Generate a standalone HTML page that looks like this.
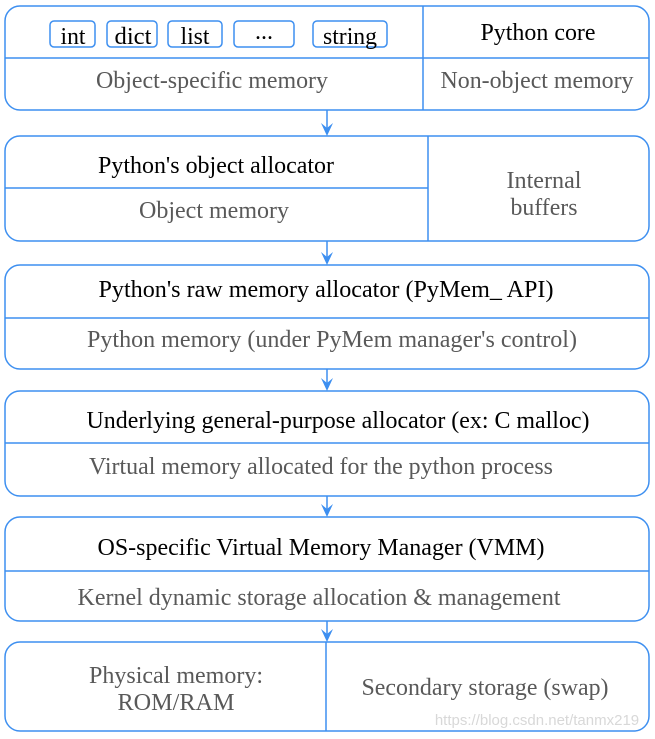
<!DOCTYPE html>
<html><head><meta charset="utf-8"><style>
html,body{margin:0;padding:0;background:#fff;}
svg{display:block;}
text{font-family:"Liberation Serif",serif;font-size:24px;text-anchor:middle;}
.b{fill:#000;} .g{fill:#595959;}
</style></head><body>
<svg width="655" height="739" viewBox="0 0 655 739">
<g fill="none" stroke="#3d8ff0" stroke-width="1.5">
<rect x="5" y="6" width="644" height="104" rx="15"/>
<line x1="5" y1="58" x2="649" y2="58"/><line x1="423" y1="6" x2="423" y2="110"/>
<rect x="50" y="21" width="45" height="26" rx="4"/>
<rect x="107" y="21" width="50" height="26" rx="4"/>
<rect x="168" y="21" width="54" height="26" rx="4"/>
<rect x="234" y="21" width="60" height="26" rx="4"/>
<rect x="313" y="21" width="74" height="26" rx="4"/>
<rect x="5" y="136" width="644" height="105" rx="15"/>
<line x1="5" y1="188" x2="428" y2="188"/><line x1="428" y1="136" x2="428" y2="241"/>
<rect x="5" y="265" width="644" height="104" rx="15"/>
<line x1="5" y1="318" x2="649" y2="318"/>
<rect x="5" y="391" width="644" height="105" rx="15"/>
<line x1="5" y1="443" x2="649" y2="443"/>
<rect x="5" y="517" width="644" height="104" rx="15"/>
<line x1="5" y1="571" x2="649" y2="571"/>
<rect x="5" y="642" width="644" height="89" rx="15"/>
<line x1="326" y1="642" x2="326" y2="731"/>
<line x1="327" y1="110" x2="327" y2="130"/>
<line x1="327" y1="241" x2="327" y2="259"/>
<line x1="327" y1="369" x2="327" y2="385"/>
<line x1="327" y1="496" x2="327" y2="511"/>
<line x1="327" y1="621" x2="327" y2="636"/>
</g>
<g fill="#3d8ff0">
<path d="M321,123 L327,136 L333,123 L327,128 Z"/>
<path d="M321,252 L327,265 L333,252 L327,257 Z"/>
<path d="M321,378 L327,391 L333,378 L327,383 Z"/>
<path d="M321,504 L327,517 L333,504 L327,509 Z"/>
<path d="M321,629 L327,642 L333,629 L327,634 Z"/>
</g>
<text class="b" x="73" y="44" textLength="25" lengthAdjust="spacingAndGlyphs">int</text>
<text class="b" x="133" y="44" textLength="37" lengthAdjust="spacingAndGlyphs">dict</text>
<text class="b" x="195" y="44" textLength="29" lengthAdjust="spacingAndGlyphs">list</text>
<text class="b" x="264" y="39">...</text>
<text class="b" x="350" y="44" textLength="54" lengthAdjust="spacingAndGlyphs">string</text>
<text class="b" x="538" y="40" textLength="115" lengthAdjust="spacingAndGlyphs">Python core</text>
<text class="g" x="212" y="88" textLength="232" lengthAdjust="spacingAndGlyphs">Object-specific memory</text>
<text class="g" x="537" y="88" textLength="193" lengthAdjust="spacingAndGlyphs">Non-object memory</text>
<text class="b" x="216" y="173" textLength="236" lengthAdjust="spacingAndGlyphs">Python's object allocator</text>
<text class="g" x="214" y="218" textLength="150" lengthAdjust="spacingAndGlyphs">Object memory</text>
<text class="g" x="544" y="188" textLength="75" lengthAdjust="spacingAndGlyphs">Internal</text>
<text class="g" x="544" y="215" textLength="67" lengthAdjust="spacingAndGlyphs">buffers</text>
<text class="b" x="326" y="297" textLength="455" lengthAdjust="spacingAndGlyphs">Python's raw memory allocator (PyMem_ API)</text>
<text class="g" x="332" y="347" textLength="490" lengthAdjust="spacingAndGlyphs">Python memory (under PyMem manager's control)</text>
<text class="b" x="338" y="428" textLength="503" lengthAdjust="spacingAndGlyphs">Underlying general-purpose allocator (ex: C malloc)</text>
<text class="g" x="321" y="474" textLength="464" lengthAdjust="spacingAndGlyphs">Virtual memory allocated for the python process</text>
<text class="b" x="321" y="555" textLength="447" lengthAdjust="spacingAndGlyphs">OS-specific Virtual Memory Manager (VMM)</text>
<text class="g" x="319" y="605" textLength="483" lengthAdjust="spacingAndGlyphs">Kernel dynamic storage allocation &amp; management</text>
<text class="g" x="176" y="683" textLength="174" lengthAdjust="spacingAndGlyphs">Physical memory:</text>
<text class="g" x="176" y="710" textLength="117" lengthAdjust="spacingAndGlyphs">ROM/RAM</text>
<text class="g" x="485" y="695" textLength="247" lengthAdjust="spacingAndGlyphs">Secondary storage (swap)</text>
<text x="537" y="725" style="font-family:'Liberation Sans',sans-serif;font-size:15px;fill:#d8d8d8;">https://blog.csdn.net/tanmx219</text>
</svg>
</body></html>
